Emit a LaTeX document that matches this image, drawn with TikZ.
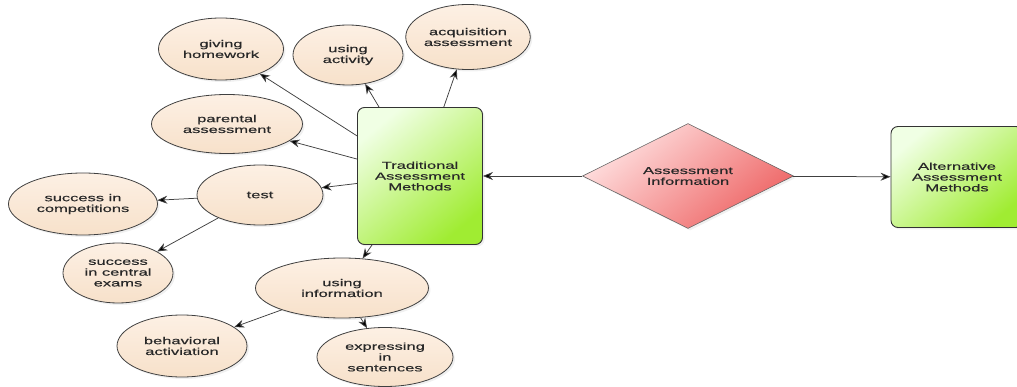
\documentclass[tikz,border=0pt]{standalone}
\usepackage{fontspec}
\setmainfont{Liberation Sans}[FakeStretch=1.65,FakeBold=0.4]
\usetikzlibrary{shapes.geometric,arrows.meta,shadows}
\definecolor{peachT}{RGB}{253,240,228}
\definecolor{peachB}{RGB}{247,225,202}
\definecolor{greenT}{RGB}{240,255,228}
\definecolor{greenM}{RGB}{208,247,170}
\definecolor{greenB}{RGB}{160,236,50}
\definecolor{redT}{RGB}{255,226,226}
\definecolor{redM}{RGB}{246,168,168}
\definecolor{redB}{RGB}{238,100,100}
\definecolor{inkc}{RGB}{40,40,40}
\begin{document}
\begin{tikzpicture}[x=1pt,y=-1pt,
  every node/.style={font=\fontsize{10}{10.8}\selectfont, text=inkc, align=center},
  shade/.style={drop shadow={shadow xshift=2pt, shadow yshift=-2pt, opacity=0.12}},
  bubble/.style={ellipse, draw=black!75, line width=0.8pt, inner sep=0pt,
    top color=peachT, bottom color=peachB, shade},
  box/.style={rectangle, rounded corners=7pt, draw=black!80, line width=0.9pt, inner sep=0pt,
    top color=greenT, middle color=greenM, bottom color=greenB, shading angle=40, shade},
  dia/.style={diamond, aspect=2, draw=black!60, line width=0.6pt, inner sep=0pt,
    top color=redT, middle color=redM, bottom color=redB, shading angle=40, shade},
  arr/.style={draw=black!75, line width=0.75pt, -{Stealth[length=10pt,width=8pt,fill=black]}}
]
\useasboundingbox (0,0) rectangle (1017,387);

% main nodes
\node[box, minimum width=125pt, minimum height=137pt] (trad) at (420,176) {Traditional\\Assessment\\Methods};
\node[dia, minimum width=211pt, minimum height=105pt] (info) at (688,176) {Assessment\\Information};
\node[box, minimum width=132pt, minimum height=101pt] (alt) at (957,177) {Alternative\\Assessment\\Methods};

% ellipses
\node[bubble, minimum width=125pt, minimum height=62pt] (giv) at (221,49) {giving\\homework};
\node[bubble, minimum width=110pt, minimum height=60pt] (act) at (348,55) {using\\activity};
\node[bubble, minimum width=120pt, minimum height=65pt] (acq) at (468,37) {acquisition\\assessment};
\node[bubble, minimum width=151pt, minimum height=59pt] (par) at (227,124) {parental\\assessment};
\node[bubble, minimum width=126pt, minimum height=60pt] (test) at (260,195) {test};
\node[bubble, minimum width=149pt, minimum height=62pt] (comp) at (83,204) {success in\\competitions};
\node[bubble, minimum width=110pt, minimum height=60pt] (cent) at (118,273) {success\\in central\\exams};
\node[bubble, minimum width=173pt, minimum height=60pt] (use) at (342,288) {using\\information};
\node[bubble, minimum width=130pt, minimum height=62pt] (beh) at (182,346) {behavioral\\activiation};
\node[bubble, minimum width=136pt, minimum height=59pt] (exp) at (385,357) {expressing\\in\\sentences};

% connectors
\draw[arr] (info) -- (trad);
\draw[arr] (info) -- (alt);
\draw[arr] (trad) -- (giv);
\draw[arr] (trad) -- (act);
\draw[arr] (trad) -- (acq);
\draw[arr] (trad) -- (par);
\draw[arr] (trad) -- (test);
\draw[arr] (trad) -- (use);
\draw[arr] (test) -- (comp);
\draw[arr] (test) -- (cent);
\draw[arr] (use) -- (beh);
\draw[arr] (use) -- (exp);
\end{tikzpicture}
\end{document}
